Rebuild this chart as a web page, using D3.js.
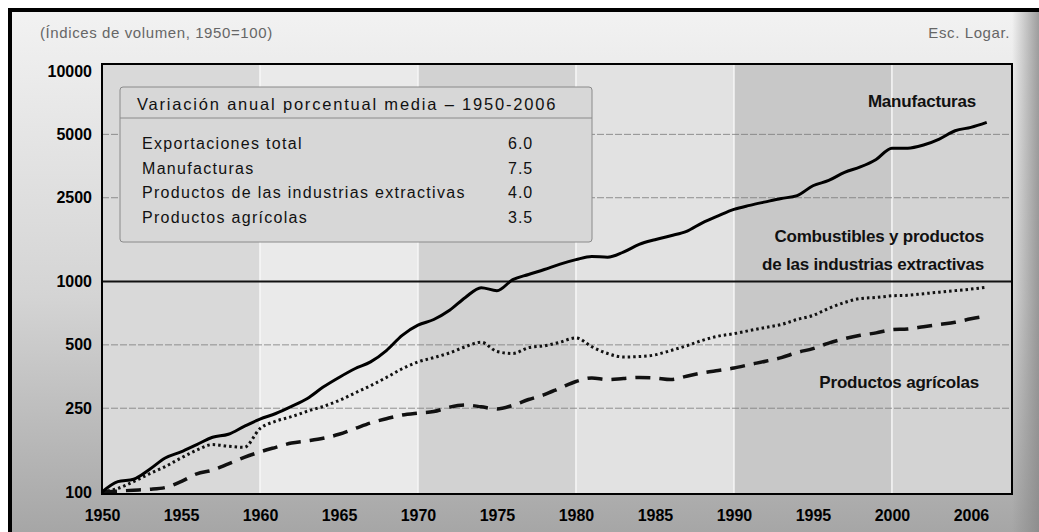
<!DOCTYPE html>
<html>
<head>
<meta charset="utf-8">
<script src="https://cdn.jsdelivr.net/npm/d3@7"></script>
<style>
  body { margin: 0; background: #fff; }
  svg { display: block; font-family: "Liberation Sans", Arial, sans-serif; }
</style>
</head>
<body>
<svg width="1039" height="532"></svg>
<script>
// index of volume, 1950 = 100
var years = [1950, 1951, 1952, 1953, 1954, 1955, 1956, 1957, 1958, 1959,
             1960, 1961, 1962, 1963, 1964, 1965, 1966, 1967, 1968, 1969,
             1970, 1971, 1972, 1973, 1974, 1975, 1976, 1977, 1978, 1979,
             1980, 1981, 1982, 1983, 1984, 1985, 1986, 1987, 1988, 1989,
             1990, 1991, 1992, 1993, 1994, 1995, 1996, 1997, 1998, 1999,
             2000, 2001, 2002, 2003, 2004, 2005, 2006];

var manufacturas = [100, 112, 115, 128, 145, 155, 168, 182, 188, 205,
                    222, 236, 255, 278, 315, 350, 385, 415, 470, 555,
                    620, 660, 730, 840, 935, 905, 1020, 1080, 1140, 1210,
                    1270, 1315, 1305, 1380, 1500, 1580, 1650, 1730, 1900, 2050,
                    2200, 2300, 2390, 2480, 2560, 2850, 3020, 3300, 3500, 3800,
                    4300, 4300, 4450, 4750, 5200, 5400, 5700];

var combustibles = [100, 104, 112, 122, 132, 145, 158, 168, 165, 163,
                    200, 217, 228, 242, 255, 272, 295, 320, 350, 385,
                    415, 435, 458, 490, 515, 465, 455, 485, 495, 515,
                    540, 490, 455, 438, 440, 448, 470, 495, 525, 550,
                    565, 585, 605, 625, 660, 690, 745, 795, 830, 840,
                    855, 860, 875, 890, 905, 920, 940];

var agricolas = [100, 101, 102, 103, 105, 112, 122, 127, 136, 146,
                 155, 163, 171, 175, 180, 188, 200, 213, 223, 232,
                 237, 241, 253, 259, 254, 248, 258, 275, 290, 312,
                 335, 348, 342, 346, 350, 348, 342, 355, 368, 378,
                 388, 403, 418, 435, 460, 480, 510, 535, 555, 570,
                 590, 595, 610, 625, 640, 665, 685];

var yTicks = [100, 250, 500, 1000, 2500, 5000, 10000];
var gridValues = [250, 500, 2500, 5000];
var refValue = 1000;

var xTickYears = [1950, 1955, 1960, 1965, 1970, 1975, 1980, 1985, 1990, 1995, 2000, 2005];
var xTickLabels = ["1950", "1955", "1960", "1965", "1970", "1975", "1980", "1985", "1990", "1995", "2000", "2006"];

var bandStarts = [1950, 1960, 1970, 1980, 1990, 2000];

var legendTitle = "Variación anual porcentual media – 1950-2006";
var legendRows = ["Exportaciones total", "Manufacturas", "Productos de las industrias extractivas", "Productos agrícolas"];
var legendValues = ["6.0", "7.5", "4.0", "3.5"];

var bandFills = ["#d9d9d9", "#eaeaea", "#d2d2d2", "#e2e2e2", "#c8c8c8", "#d3d3d3"];

var svg = d3.select("svg");
var W = 1039, H = 532;
var plotL = 102, plotR = 1012, plotT = 64, plotB = 494;

var x = d3.scaleLinear().domain([1950, 2007.6]).range([plotL, plotR]);
var y = d3.scaleLog().domain([100, 10000]).range([492, 71]);

// page background
var defs = svg.append("defs");
var bg = defs.append("linearGradient").attr("id", "bg")
    .attr("x1", 0).attr("y1", 0).attr("x2", 0).attr("y2", 1);
bg.append("stop").attr("offset", "0%").attr("stop-color", "#f2f2f2");
bg.append("stop").attr("offset", "55%").attr("stop-color", "#d4d4d4");
bg.append("stop").attr("offset", "100%").attr("stop-color", "#a6a6a6");
var edge = defs.append("linearGradient").attr("id", "edge")
    .attr("x1", 0).attr("y1", 0).attr("x2", 1).attr("y2", 0);
edge.append("stop").attr("offset", "0%").attr("stop-color", "#888").attr("stop-opacity", 0);
edge.append("stop").attr("offset", "100%").attr("stop-color", "#888").attr("stop-opacity", 0.8);

svg.append("rect").attr("width", W).attr("height", H).attr("fill", "#fff");
svg.append("rect").attr("x", 10).attr("y", 10).attr("width", W - 10).attr("height", H - 10)
    .attr("fill", "url(#bg)");
svg.append("rect").attr("x", plotR).attr("y", 10).attr("width", W - plotR).attr("height", H - 10)
    .attr("fill", "url(#edge)");
svg.append("path").attr("d", "M10," + H + "V10H" + W)
    .attr("fill", "none").attr("stroke", "#000").attr("stroke-width", 4);

// decade bands
svg.append("g").selectAll("rect")
    .data(bandStarts)
    .enter().append("rect")
    .attr("x", function(d) { return x(d); })
    .attr("y", plotT)
    .attr("width", function(d) { return Math.min(x(d + 10), plotR) - x(d); })
    .attr("height", plotB - plotT)
    .attr("fill", function(d, i) { return bandFills[i]; });

svg.append("g").selectAll("line")
    .data(bandStarts.slice(1))
    .enter().append("line")
    .attr("x1", function(d) { return x(d); })
    .attr("x2", function(d) { return x(d); })
    .attr("y1", plotT).attr("y2", plotB)
    .attr("stroke", "#f7f7f7").attr("stroke-width", 1.5);

// gridlines
svg.append("g").selectAll("line")
    .data(gridValues)
    .enter().append("line")
    .attr("x1", plotL).attr("x2", plotR)
    .attr("y1", function(d) { return y(d); })
    .attr("y2", function(d) { return y(d); })
    .attr("stroke", "#7a7a7a").attr("stroke-width", 0.8)
    .attr("stroke-dasharray", "7,2");

svg.append("line")
    .attr("x1", plotL).attr("x2", plotR)
    .attr("y1", y(refValue)).attr("y2", y(refValue))
    .attr("stroke", "#111").attr("stroke-width", 2);

// legend box
var lg = svg.append("g");
lg.append("rect").attr("x", 120).attr("y", 87).attr("width", 472).attr("height", 155)
    .attr("rx", 3).attr("fill", "#d7d7d7").attr("stroke", "#8a8a8a").attr("stroke-width", 1);
lg.append("line").attr("x1", 120).attr("x2", 592).attr("y1", 118).attr("y2", 118)
    .attr("stroke", "#8a8a8a").attr("stroke-width", 1);
lg.append("text").attr("x", 137).attr("y", 110)
    .attr("font-size", 16.5).attr("letter-spacing", 1.8).attr("fill", "#111")
    .text(legendTitle);
lg.selectAll("text.row")
    .data(legendRows)
    .enter().append("text").attr("class", "row")
    .attr("x", 142)
    .attr("y", function(d, i) { return 149 + i * 24.5; })
    .attr("font-size", 16).attr("letter-spacing", 1.3).attr("fill", "#111")
    .text(function(d) { return d; });
lg.selectAll("text.val")
    .data(legendValues)
    .enter().append("text").attr("class", "val")
    .attr("x", 508)
    .attr("y", function(d, i) { return 149 + i * 24.5; })
    .attr("font-size", 16).attr("letter-spacing", 1).attr("fill", "#111")
    .text(function(d) { return d; });

// series
var line = d3.line()
    .x(function(d) { return x(d.year); })
    .y(function(d) { return y(d.value); })
    .curve(d3.curveMonotoneX);

function series(values) {
    return years.map(function(yr, i) { return { year: yr, value: values[i] }; });
}

svg.append("path").datum(series(agricolas))
    .attr("d", line).attr("fill", "none")
    .attr("stroke", "#111").attr("stroke-width", 3.5)
    .attr("stroke-dasharray", "15,9");

svg.append("path").datum(series(combustibles))
    .attr("d", line).attr("fill", "none")
    .attr("stroke", "#111").attr("stroke-width", 3)
    .attr("stroke-dasharray", "2.5,3");

svg.append("path").datum(series(manufacturas))
    .attr("d", line).attr("fill", "none")
    .attr("stroke", "#000").attr("stroke-width", 3);

// plot frame
svg.append("rect").attr("x", plotL).attr("y", plotT)
    .attr("width", plotR - plotL).attr("height", plotB - plotT)
    .attr("fill", "none").attr("stroke", "#000").attr("stroke-width", 2);

// axes
var yAxis = svg.append("g")
    .attr("transform", "translate(" + plotL + ",0)")
    .call(d3.axisLeft(y).tickValues(yTicks).tickFormat(d3.format("d")).tickSize(0).tickPadding(10));
yAxis.select(".domain").remove();
yAxis.selectAll("text")
    .attr("font-family", "'Liberation Sans', Arial, sans-serif")
    .attr("font-size", 16).attr("font-weight", "bold").attr("fill", "#000");

var xAxis = svg.append("g")
    .attr("transform", "translate(0," + plotB + ")")
    .call(d3.axisBottom(x).tickValues(xTickYears)
        .tickFormat(function(d, i) { return xTickLabels[i]; })
        .tickSize(0).tickPadding(16));
xAxis.select(".domain").remove();
xAxis.selectAll("text")
    .attr("font-family", "'Liberation Sans', Arial, sans-serif")
    .attr("font-size", 16).attr("font-weight", "bold").attr("fill", "#000");

// titles and series labels
svg.append("text").attr("x", 40).attr("y", 38)
    .attr("font-size", 15).attr("letter-spacing", 0.6).attr("fill", "#666")
    .text("(Índices de volumen, 1950=100)");
svg.append("text").attr("x", 1010).attr("y", 38)
    .attr("text-anchor", "end")
    .attr("font-size", 15).attr("letter-spacing", 0.6).attr("fill", "#666")
    .text("Esc. Logar.");

var labels = [
    { text: "Manufacturas", x: 976, y: 107 },
    { text: "Combustibles y productos", x: 984, y: 242 },
    { text: "de las industrias extractivas", x: 984, y: 270 },
    { text: "Productos agrícolas", x: 979, y: 388 }
];
svg.append("g").selectAll("text")
    .data(labels)
    .enter().append("text")
    .attr("x", function(d) { return d.x; })
    .attr("y", function(d) { return d.y; })
    .attr("text-anchor", "end")
    .attr("font-size", 17).attr("font-weight", "bold").attr("fill", "#111")
    .attr("letter-spacing", -0.2)
    .text(function(d) { return d.text; });
</script>
</body>
</html>
